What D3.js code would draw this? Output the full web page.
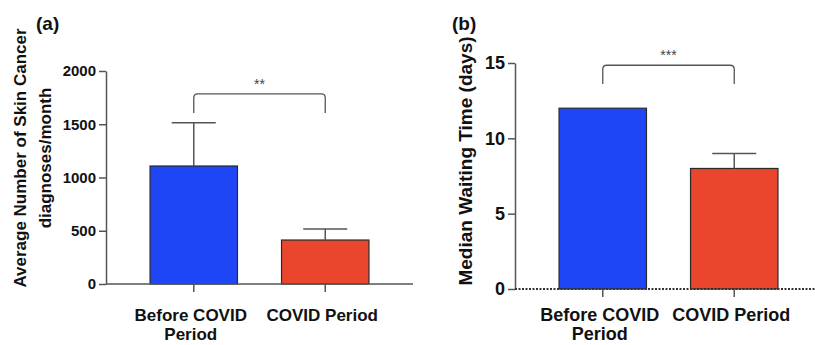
<!DOCTYPE html>
<html>
<head>
<meta charset="utf-8">
<script src="https://cdn.jsdelivr.net/npm/d3@7"></script>
<style>
  body { margin: 0; background: #fff; }
  svg { display: block; font-family: "Liberation Sans", Arial, sans-serif; font-weight: bold; }
  .axis path, .axis line { stroke: #555; stroke-width: 1.5; }
  .axis text { fill: #111; font-weight: bold; }
</style>
</head>
<body>
<svg id="chart" width="815" height="345"></svg>
<script>
// shared categories
const categories = ['Before COVID Period', 'COVID Period'];
const categoryLines = [['Before COVID', 'Period'], ['COVID Period']];
const barColors = ['#1e46f6', '#ea462e'];

// panel (a)
const diagnosesMean = [1108, 413];
const diagnosesErr = [1515, 516];
const diagnosesTicks = [0, 500, 1000, 1500, 2000];

// panel (b)
const waitingMedian = [12, 8];
const waitingErr = [12, 9];
const waitingTicks = [0, 5, 10, 15];

const svg = d3.select('#chart');

function panel(opt) {
    const x = d3.scaleBand()
                .domain(categories)
                .range(opt.xRange)
                .paddingInner(0.335)
                .paddingOuter(0.335);

    const y = d3.scaleLinear()
                .domain(opt.yDomain)
                .range(opt.yRange);

    const g = svg.append('g');

    // bars
    g.selectAll('rect.bar')
        .data(categories)
        .enter()
        .append('rect')
            .attr('class', 'bar')
            .attr('x', d => x(d))
            .attr('y', (d, i) => y(opt.values[i]))
            .attr('width', x.bandwidth())
            .attr('height', (d, i) => y(0) - y(opt.values[i]))
            .style('fill', (d, i) => barColors[i])
            .style('stroke', '#2a2a2a')
            .style('stroke-width', 1.2);

    // error bars
    const capW = 22;
    categories.forEach((c, i) => {
        if (opt.errors[i] <= opt.values[i]) return;
        const cx = x(c) + x.bandwidth() / 2;
        g.append('line')
            .attr('x1', cx).attr('x2', cx)
            .attr('y1', y(opt.values[i])).attr('y2', y(opt.errors[i]))
            .style('stroke', '#555').style('stroke-width', 1.5);
        g.append('line')
            .attr('x1', cx - capW).attr('x2', cx + capW)
            .attr('y1', y(opt.errors[i])).attr('y2', y(opt.errors[i]))
            .style('stroke', '#555').style('stroke-width', 1.5);
    });

    // y axis
    g.append('g')
        .attr('class', 'axis')
        .attr('transform', 'translate(' + opt.xRange[0] + ', 0)')
        .call(d3.axisLeft(y).tickValues(opt.ticks).tickFormat(d3.format('d'))
                .tickSize(7).tickPadding(3).tickSizeOuter(0))
        .call(a => a.selectAll('text').style('font-size', opt.tickFont + 'px'));

    // x axis line + ticks at bar centres
    const xa = g.append('g')
        .attr('class', 'axis')
        .attr('transform', 'translate(0, ' + y(0) + ')')
        .call(d3.axisBottom(x).tickSize(8).tickSizeOuter(0).tickFormat(''));
    xa.select('path.domain').remove();
    xa.append('line')
        .attr('x1', opt.xRange[0]).attr('x2', opt.xAxisEnd)
        .style('stroke', opt.dotted ? '#333' : '#555')
        .style('stroke-width', opt.dotted ? 2 : 1.5)
        .style('stroke-dasharray', opt.dotted ? '2,1.5' : null);

    // category labels
    categories.forEach((c, i) => {
        const t = g.append('text')
            .attr('text-anchor', 'middle')
            .attr('x', x(c) + x.bandwidth() / 2 - 3)
            .attr('y', opt.labelY)
            .style('font-size', opt.labelFont + 'px')
            .style('fill', '#111');
        categoryLines[i].forEach((ln, k) => {
            t.append('tspan')
                .attr('x', x(c) + x.bandwidth() / 2 - 3)
                .attr('dy', k === 0 ? 0 : opt.lineGap)
                .text(ln);
        });
    });

    // significance bracket
    const bx0 = x(categories[0]) + x.bandwidth() / 2;
    const bx1 = x(categories[1]) + x.bandwidth() / 2;
    const by = y(opt.bracket[0]);
    const bl = y(opt.bracket[1]);
    const r = 4;
    g.append('path')
        .attr('d', 'M' + bx0 + ',' + bl + ' L' + bx0 + ',' + (by + r) +
                   ' Q' + bx0 + ',' + by + ' ' + (bx0 + r) + ',' + by +
                   ' L' + (bx1 - r) + ',' + by +
                   ' Q' + bx1 + ',' + by + ' ' + bx1 + ',' + (by + r) +
                   ' L' + bx1 + ',' + bl)
        .style('fill', 'none')
        .style('stroke', '#555')
        .style('stroke-width', 1.3);
    g.append('text')
        .attr('text-anchor', 'middle')
        .attr('x', (bx0 + bx1) / 2)
        .attr('y', by - 5)
        .style('font-size', '14px')
        .style('font-weight', 'normal')
        .style('fill', '#444')
        .text(opt.stars);

    // y title
    const yt = g.append('text')
        .attr('text-anchor', 'middle')
        .attr('transform', 'translate(' + opt.titleX + ', ' + opt.titleY + ') rotate(-90)')
        .style('font-size', opt.titleFont + 'px')
        .style('fill', '#111');
    opt.title.forEach((ln, k) => {
        yt.append('tspan').attr('x', 0).attr('dy', k === 0 ? 0 : opt.titleGap).text(ln);
    });

    // panel letter
    g.append('text')
        .attr('x', opt.letterX)
        .attr('y', 30)
        .style('font-size', '19px')
        .style('fill', '#111')
        .text(opt.letter);
}

panel({
    xRange: [106, 413], xAxisEnd: 413,
    yDomain: [0, 2000], yRange: [284, 71],
    values: diagnosesMean, errors: diagnosesErr, ticks: diagnosesTicks,
    tickFont: 15, labelFont: 17, labelY: 321, lineGap: 19,
    bracket: [1785, 1605], stars: '**',
    title: ['Average Number of Skin Cancer', 'diagnoses/month'],
    titleX: 26, titleY: 158, titleFont: 17, titleGap: 25,
    letter: '(a)', letterX: 36, dotted: false
});

panel({
    xRange: [515, 822], xAxisEnd: 815,
    yDomain: [0, 15], yRange: [289, 63],
    values: waitingMedian, errors: waitingErr, ticks: waitingTicks,
    tickFont: 18, labelFont: 18, labelY: 321, lineGap: 19,
    bracket: [14.85, 13.6], stars: '***',
    title: ['Median Waiting Time (days)'],
    titleX: 472, titleY: 161, titleFont: 19, titleGap: 0,
    letter: '(b)', letterX: 452, dotted: true
});
</script>
</body>
</html>
